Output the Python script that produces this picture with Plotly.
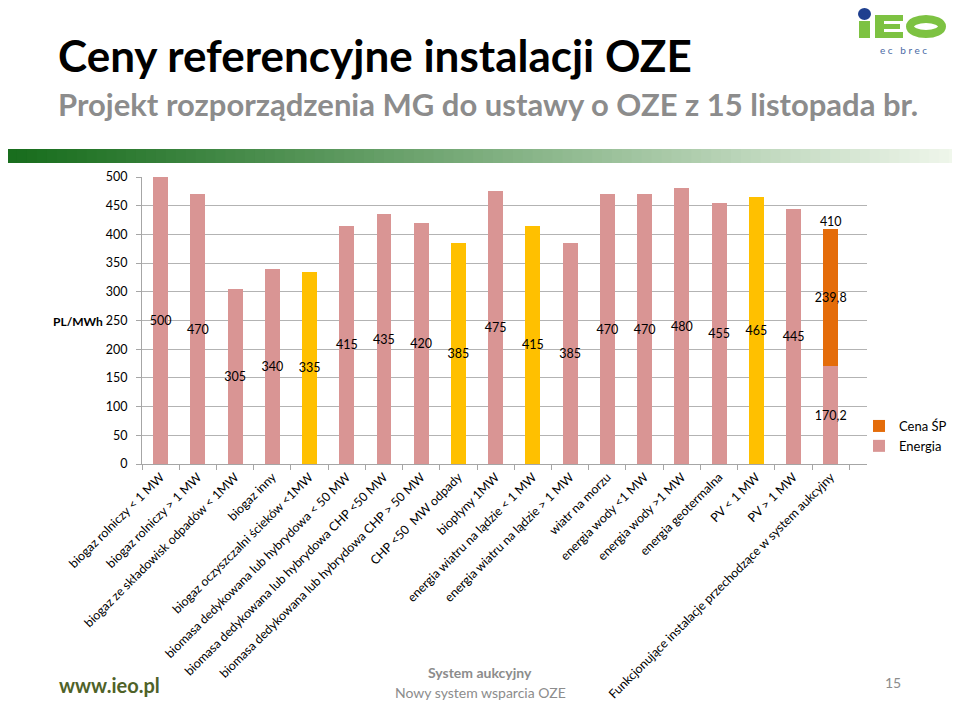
import plotly.graph_objects as go

categories = [
    "biogaz rolniczy < 1 MW",
    "biogaz rolniczy > 1 MW",
    "biogaz ze składowisk odpadów < 1MW",
    "biogaz inny",
    "biogaz oczyszczalni ścieków <1MW",
    "biomasa dedykowana lub hybrydowa < 50 MW",
    "biomasa dedykowana lub hybrydowa CHP <50 MW",
    "biomasa dedykowana lub hybrydowa CHP > 50 MW",
    "CHP <50  MW odpady",
    "biopłyny 1MW",
    "energia wiatru na lądzie < 1 MW",
    "energia wiatru na lądzie > 1 MW",
    "wiatr na morzu",
    "energia wody <1 MW",
    "energia wody >1 MW",
    "energia geotermalna",
    "PV < 1 MW",
    "PV > 1 MW",
    "Funkcjonujące instalacje przechodzące w system aukcyjny",
]
energia = [500, 470, 305, 340, 335, 415, 435, 420, 385, 475, 415, 385,
           470, 470, 480, 455, 465, 445, 170.2]
highlighted = [4, 8, 10, 16]  # yellow bars
cena_sp_category = [categories[-1]]
cena_sp = [239.8]
y_ticks = [0, 50, 100, 150, 200, 250, 300, 350, 400, 450, 500]

PINK = "#D99594"
YELLOW = "#FFC000"
ORANGE = "#E46C0A"
FONT = "Lato"

def fmt(v):
    s = ("%g" % v)
    return s.replace(".", ",")

colors = [YELLOW if i in highlighted else PINK for i in range(len(categories))]

# the page body adds an 8px offset; the figure is made wider than the
# window so that the outside legend never squeezes the plot area
OFF = 8
FW, FH = 1000, 704 - OFF
# plot-area geometry in reference (screen) pixels
L, R, T, B = 142, 867, 177, 464
W, H = R - L, B - T
def xp(px):
    return (px - L) / W
def yp(py):
    return (B - py) / H

fig = go.Figure()
fig.add_trace(go.Bar(
    name="Energia", x=categories, y=energia,
    marker=dict(color=colors, line=dict(width=0)),
    text=[fmt(v) for v in energia], textposition="inside",
    insidetextanchor="middle", textangle=0, constraintext="none",
    textfont=dict(family=FONT, size=12.5, color="#000000"),
    cliponaxis=False,
))
fig.add_trace(go.Bar(
    name="Cena ŚP", x=cena_sp_category, y=cena_sp,
    marker=dict(color=ORANGE, line=dict(width=0)),
    text=[fmt(v) for v in cena_sp], textposition="inside",
    insidetextanchor="middle", textangle=0, constraintext="none",
    textfont=dict(family=FONT, size=12.5, color="#000000"),
    cliponaxis=False,
))
# total label above the stacked bar
total = energia[-1] + cena_sp[0]
fig.add_trace(go.Scatter(
    x=cena_sp_category, y=[total], mode="text", text=[fmt(round(total, 1))],
    textposition="top center", showlegend=False, cliponaxis=False,
    textfont=dict(family=FONT, size=12.5, color="#000000"),
))

shapes = []
# green gradient band
n = 96
c0 = (25, 110, 30)
c1 = (240, 247, 236)
for i in range(n):
    t = i / (n - 1)
    t2 = t ** 1.1
    c = tuple(int(c0[k] + (c1[k] - c0[k]) * t2) for k in range(3))
    shapes.append(dict(type="rect", xref="paper", yref="paper",
                       x0=xp(OFF + (960 - OFF) * i / n - 1),
                       x1=xp(OFF + (960 - OFF) * (i + 1) / n + 0.6),
                       y0=yp(163), y1=yp(149), line=dict(width=0),
                       fillcolor="rgb(%d,%d,%d)" % c, layer="above"))
# logo
G = "#7DC242"
def prect(x0, y0, x1, y1, col):
    shapes.append(dict(type="rect", xref="paper", yref="paper",
                       x0=xp(x0), x1=xp(x1), y0=yp(y1), y1=yp(y0),
                       line=dict(width=0), fillcolor=col))
prect(859, 21, 870, 38, G)
shapes.append(dict(type="circle", xref="paper", yref="paper",
                   x0=xp(858), x1=xp(871), y0=yp(20), y1=yp(8),
                   line=dict(width=0), fillcolor="#1F3F8F"))
prect(875, 15, 884, 38, G)
prect(875, 15, 903, 21, G)
prect(875, 24, 900, 29, G)
prect(875, 32, 903, 38, G)
shapes.append(dict(type="circle", xref="paper", yref="paper",
                   x0=xp(910), x1=xp(942), y0=yp(34), y1=yp(19),
                   line=dict(width=8, color=G), fillcolor="rgba(0,0,0,0)"))

annotations = [
    dict(text="<b>Ceny referencyjne instalacji OZE</b>", x=xp(56), y=yp(55),
         xref="paper", yref="paper", xanchor="left", yanchor="middle",
         showarrow=False, font=dict(family=FONT, size=44, color="#000000")),
    dict(text="<b>Projekt rozporządzenia MG do ustawy o OZE z 15 listopada br.</b>",
         x=xp(56), y=yp(104), xref="paper", yref="paper", xanchor="left",
         yanchor="middle", showarrow=False,
         font=dict(family=FONT, size=31, color="#8C8C8C")),
    dict(text="e c   b r e c", x=xp(903), y=yp(50), xref="paper", yref="paper",
         xanchor="center", yanchor="middle", showarrow=False,
         font=dict(family=FONT, size=10, color="#4A6AA5")),
    dict(text="<b>PL/MWh</b>", x=xp(105), y=yp(321), xref="paper", yref="paper",
         xanchor="right", yanchor="middle", showarrow=False,
         font=dict(family=FONT, size=12, color="#000000")),
    dict(text="<b>www.ieo.pl</b>", x=xp(57), y=yp(685), xref="paper", yref="paper",
         xanchor="left", yanchor="middle", showarrow=False,
         font=dict(family=FONT, size=20, color="#4F6228")),
    dict(text="<b>System aukcyjny</b>", x=xp(480), y=yp(672), xref="paper",
         yref="paper", xanchor="center", yanchor="middle", showarrow=False,
         font=dict(family=FONT, size=14, color="#8C8C8C")),
    dict(text="Nowy system wsparcia OZE", x=xp(480), y=yp(692), xref="paper",
         yref="paper", xanchor="center", yanchor="middle", showarrow=False,
         font=dict(family=FONT, size=14, color="#8C8C8C")),
    dict(text="15", x=xp(893), y=yp(682), xref="paper", yref="paper",
         xanchor="center", yanchor="middle", showarrow=False,
         font=dict(family=FONT, size=14, color="#8C8C8C")),
]

fig.update_layout(
    width=FW, height=FH,
    margin=dict(l=L - OFF, r=FW - (R - OFF), t=T - OFF, b=704 - B, pad=0),
    paper_bgcolor="#FFFFFF", plot_bgcolor="#FFFFFF",
    barmode="stack", bargap=0.6,
    font=dict(family=FONT, size=12, color="#000000"),
    showlegend=True,
    legend=dict(x=xp(859), y=yp(411), xanchor="left", yanchor="top",
                traceorder="reversed", font=dict(family=FONT, size=13),
                bgcolor="rgba(0,0,0,0)", tracegroupgap=0),
    shapes=shapes, annotations=annotations,
)
fig.update_xaxes(
    type="category", categoryorder="array", categoryarray=categories,
    tickangle=-45, tickfont=dict(family=FONT, size=12.4, color="#000000"),
    showline=True, linecolor="#A6A6A6", linewidth=1,
    ticks="outside", tickson="boundaries", ticklen=5, tickcolor="#A6A6A6",
    showgrid=False, automargin=False,
)
fig.update_yaxes(
    range=[0, 500], tickvals=y_ticks, ticktext=[str(v) for v in y_ticks],
    tickfont=dict(family=FONT, size=12.5, color="#000000"),
    showline=True, linecolor="#A6A6A6", linewidth=1,
    ticks="outside", ticklen=5, tickcolor="#A6A6A6",
    showgrid=True, gridcolor="#B3B3B3", gridwidth=1, zeroline=False,
    ticklabelstandoff=6, automargin=False,
)

fig.write_html("out.html")
